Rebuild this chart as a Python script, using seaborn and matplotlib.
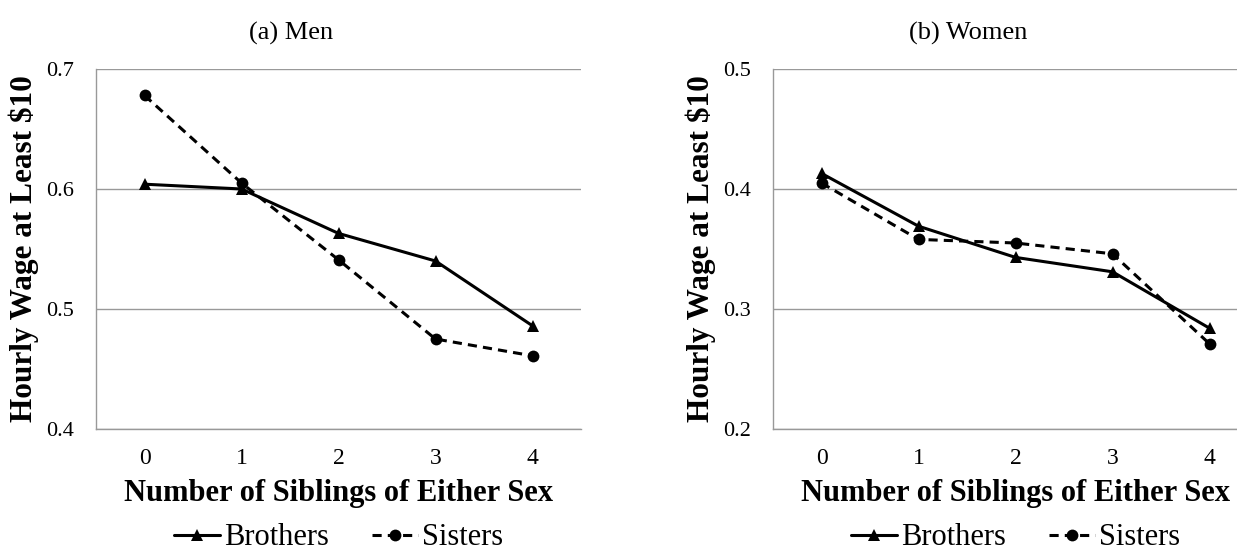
import pandas as pd
import matplotlib.pyplot as plt
import seaborn as sns

# ----- Data ----- #
siblings = [0, 1, 2, 3, 4]
men_brothers = [0.604, 0.600, 0.563, 0.540, 0.486]
men_sisters = [0.678, 0.605, 0.541, 0.475, 0.461]
women_brothers = [0.413, 0.369, 0.343, 0.331, 0.284]
women_sisters = [0.405, 0.358, 0.355, 0.346, 0.271]
men_yticks = [0.4, 0.5, 0.6, 0.7]
women_yticks = [0.2, 0.3, 0.4, 0.5]

sns.set_style("white")
plt.rcParams['font.family'] = ['Liberation Serif', 'DejaVu Serif']
plt.rcParams['text.color'] = 'black'
plt.rcParams['axes.labelcolor'] = 'black'


def longForm(brothers, sisters):
    return pd.DataFrame({
        "n": siblings * 2,
        "share": brothers + sisters,
        "who": ["Brothers"] * 5 + ["Sisters"] * 5,
    })


def drawPanel(ax, df, yticks, title):
    sns.lineplot(data=df, x="n", y="share", hue="who", style="who",
                 markers={"Brothers": "^", "Sisters": "o"},
                 dashes={"Brothers": "", "Sisters": (3, 2)},
                 palette={"Brothers": "black", "Sisters": "black"},
                 markersize=8.5, markeredgewidth=0, linewidth=2.2, ax=ax)
    ax.set_xlim(-0.5, 4.5)
    ax.set_ylim(yticks[0], yticks[-1])
    ax.set_xticks(siblings)
    ax.set_yticks(yticks)
    ax.set_yticklabels([f"{t:.1f}" for t in yticks])
    ax.tick_params(axis="y", labelsize=16, length=5, color="#999999",
                   width=1, pad=11, labelcolor="black")
    ax.tick_params(axis="x", labelsize=17, length=0, pad=14,
                   labelcolor="black")
    ax.grid(axis="y", color="#999999", linewidth=1)
    ax.set_axisbelow(True)
    for side in ["top", "right"]:
        ax.spines[side].set_visible(False)
    for side in ["left", "bottom"]:
        ax.spines[side].set_color("#999999")
        ax.spines[side].set_linewidth(1)
    ax.set_xlabel("Number of Siblings of Either Sex", fontsize=22,
                  fontweight="bold", labelpad=7)
    ax.set_ylabel("Hourly Wage at Least $10", fontsize=22.5,
                  fontweight="bold", labelpad=5)
    # title sits over the whole panel (label included), not the plot box
    ax.set_title(title, fontsize=19, pad=21, x=0.402)
    handles, labels = ax.get_legend_handles_labels()
    ax.legend(handles, labels, loc="upper center", bbox_to_anchor=(0.5, -0.228),
              ncol=2, frameon=False, fontsize=22, handlelength=1.5,
              handletextpad=0.15, columnspacing=1.4, borderaxespad=0)


fig = plt.figure(figsize=(12.37, 5.5), dpi=100)
# axes boxes in figure fractions, taken from the reference pixel layout
ax1 = fig.add_axes([96 / 1237, 121 / 550, 485 / 1237, 360 / 550])
ax2 = fig.add_axes([773 / 1237, 121 / 550, 485 / 1237, 360 / 550])

drawPanel(ax1, longForm(men_brothers, men_sisters), men_yticks, "(a) Men")
drawPanel(ax2, longForm(women_brothers, women_sisters), women_yticks, "(b) Women")

plt.savefig("out.png", dpi=100)
